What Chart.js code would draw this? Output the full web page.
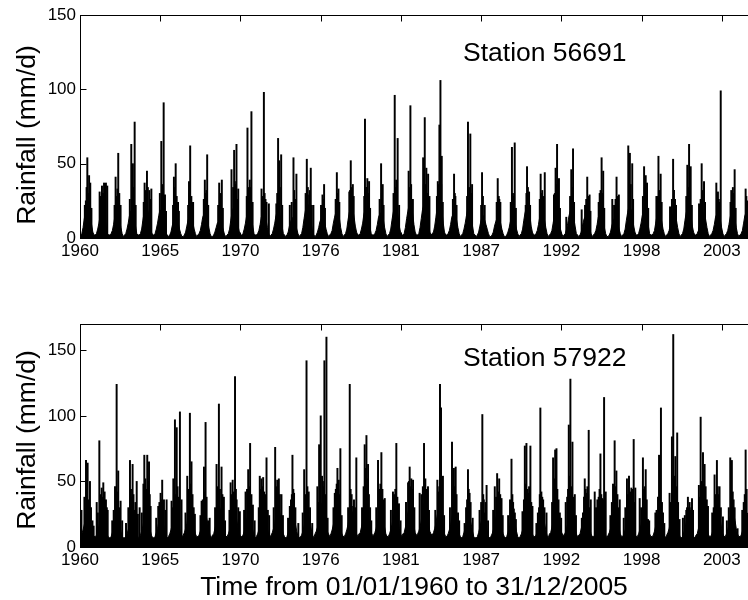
<!DOCTYPE html>
<html>
<head>
<meta charset="utf-8">
<script src="https://cdn.jsdelivr.net/npm/chart.js@4.4.1/dist/chart.umd.min.js"></script>
<style>
  html, body { margin: 0; padding: 0; background: #fff; overflow: hidden; width: 748px; height: 600px; }
  #wrap { position: relative; width: 760px; height: 600px; }
  #wrap canvas { position: absolute; left: 0; top: 0; }
</style>
</head>
<body>
<div id="wrap">
  <canvas id="chartTop" width="760" height="600"></canvas>
  <canvas id="chartBottom" width="760" height="600"></canvas>
</div>
<script>
// x axis is the day index from 01/01/1960
const firstYear = 1960;
const totalDays = 16802;
const tickDays = [0, 2000, 4000, 6000, 8000, 10000, 12000, 14000, 16000];
const tickLabels = ['1960', '1965', '1970', '1976', '1981', '1987', '1992', '1998', '2003'];
const yTickValues = [0, 50, 100, 150];

// Station 56691: monthly level of the dense rain (Jan..Dec), one row per year 1960-2005
const rain56691Monthly = [
    [2, 3, 7, 13, 18, 22, 23, 21, 16, 9, 4, 2],
    [2, 3, 6, 10, 15, 18, 19, 17, 13, 8, 3, 2],
    [2, 3, 5, 9, 14, 16, 17, 16, 12, 7, 3, 1],
    [2, 3, 6, 10, 15, 18, 19, 17, 13, 8, 3, 2],
    [2, 3, 6, 12, 17, 20, 21, 19, 15, 8, 4, 2],
    [2, 3, 6, 10, 15, 19, 18, 17, 13, 8, 3, 2],
    [1, 2, 4, 8, 11, 13, 14, 13, 10, 6, 3, 1],
    [1, 2, 4, 8, 12, 14, 13, 12, 10, 6, 3, 1],
    [2, 3, 5, 9, 14, 16, 17, 16, 12, 7, 3, 1],
    [1, 2, 4, 7, 10, 11, 12, 11, 8, 5, 2, 1],
    [2, 3, 6, 12, 17, 20, 21, 19, 15, 8, 4, 2],
    [2, 3, 6, 10, 15, 19, 18, 17, 13, 8, 3, 2],
    [2, 3, 5, 9, 14, 16, 17, 16, 12, 7, 3, 1],
    [2, 3, 6, 10, 15, 18, 19, 17, 13, 8, 3, 2],
    [1, 2, 4, 8, 11, 13, 14, 13, 10, 6, 3, 1],
    [2, 3, 7, 13, 18, 22, 23, 21, 16, 9, 4, 2],
    [1, 2, 4, 7, 11, 13, 14, 13, 10, 6, 3, 1],
    [2, 3, 5, 10, 14, 17, 18, 17, 13, 7, 3, 1],
    [2, 3, 6, 12, 17, 20, 21, 19, 14, 8, 4, 2],
    [2, 3, 6, 10, 16, 19, 18, 17, 12, 7, 3, 2],
    [2, 3, 5, 9, 14, 16, 17, 16, 12, 7, 3, 1],
    [2, 3, 6, 12, 17, 21, 20, 19, 15, 8, 4, 2],
    [2, 3, 7, 13, 18, 22, 23, 21, 16, 9, 4, 2],
    [2, 3, 7, 13, 19, 22, 23, 21, 17, 10, 4, 2],
    [3, 4, 8, 14, 20, 24, 25, 23, 18, 10, 4, 2],
    [2, 3, 5, 9, 14, 16, 17, 16, 12, 7, 3, 1],
    [2, 3, 6, 10, 15, 19, 19, 17, 13, 8, 3, 2],
    [1, 2, 4, 8, 12, 14, 13, 12, 9, 6, 3, 1],
    [1, 2, 4, 8, 11, 13, 14, 13, 10, 6, 3, 1],
    [1, 2, 4, 7, 11, 13, 14, 13, 10, 6, 3, 1],
    [2, 3, 6, 12, 17, 20, 21, 19, 15, 8, 4, 2],
    [2, 3, 5, 9, 14, 16, 17, 16, 12, 7, 3, 1],
    [2, 3, 5, 10, 15, 17, 16, 15, 11, 6, 3, 1],
    [2, 3, 6, 10, 15, 18, 19, 17, 13, 8, 3, 2],
    [1, 2, 4, 8, 12, 14, 13, 13, 10, 6, 3, 1],
    [2, 3, 5, 9, 14, 16, 17, 16, 12, 7, 3, 1],
    [1, 2, 4, 8, 11, 13, 14, 13, 10, 6, 3, 1],
    [2, 3, 6, 12, 17, 21, 20, 19, 14, 8, 4, 2],
    [2, 3, 6, 10, 15, 18, 19, 17, 13, 8, 3, 2],
    [2, 3, 5, 10, 15, 17, 16, 15, 11, 6, 3, 1],
    [2, 3, 5, 9, 14, 16, 17, 16, 12, 7, 3, 1],
    [2, 3, 6, 12, 17, 20, 21, 19, 15, 8, 4, 2],
    [2, 3, 5, 9, 14, 16, 17, 16, 12, 7, 3, 1],
    [2, 3, 5, 9, 14, 16, 17, 16, 12, 7, 3, 1],
    [2, 3, 5, 9, 14, 17, 16, 15, 12, 7, 3, 1],
    [2, 3, 5, 10, 15, 17, 16, 15, 12, 7, 3, 1],
];

// Station 56691: main single-day peaks [year + fraction of year, mm/d]
const rain56691Peaks = [
    [1960.40, 25], [1960.50, 54], [1960.62, 42], [1960.70, 37],
    [1961.34, 31], [1961.50, 35], [1961.64, 37], [1961.77, 37], [1961.86, 35],
    [1962.43, 41], [1962.61, 57], [1962.77, 22],
    [1963.50, 63], [1963.61, 50], [1963.73, 78],
    [1964.41, 37], [1964.57, 45], [1964.73, 32], [1964.87, 33],
    [1965.55, 65], [1965.71, 91], [1965.80, 29],
    [1966.41, 41], [1966.53, 50], [1966.69, 24],
    [1967.44, 38], [1967.52, 62], [1967.72, 24],
    [1968.52, 39], [1968.59, 30], [1968.68, 56],
    [1969.50, 37], [1969.60, 30], [1969.68, 39],
    [1970.34, 46], [1970.52, 59], [1970.68, 63], [1970.80, 33],
    [1971.43, 74], [1971.59, 39], [1971.70, 85],
    [1972.39, 33], [1972.55, 98], [1972.73, 24], [1972.89, 23],
    [1973.40, 23], [1973.52, 67], [1973.59, 52], [1973.73, 56],
    [1974.32, 22], [1974.57, 54], [1974.77, 43],
    [1975.48, 53], [1975.64, 29], [1975.75, 47], [1975.93, 22],
    [1976.55, 29], [1976.66, 36],
    [1977.53, 44], [1977.64, 33],
    [1978.38, 31], [1978.48, 52], [1978.62, 36],
    [1979.45, 80], [1979.61, 40], [1979.73, 38],
    [1980.55, 50], [1980.66, 36],
    [1981.48, 96], [1981.58, 39], [1981.68, 67],
    [1982.43, 45], [1982.55, 89], [1982.65, 23],
    [1983.42, 54], [1983.53, 81], [1983.64, 47], [1983.76, 43], [1983.85, 28],
    [1984.42, 38], [1984.53, 76], [1984.60, 106], [1984.69, 55],
    [1985.53, 43], [1985.62, 28],
    [1986.48, 78], [1986.64, 70], [1986.76, 36],
    [1987.44, 44], [1987.55, 15],
    [1988.51, 40], [1988.69, 24],
    [1989.48, 61], [1989.67, 64],
    [1990.42, 22], [1990.51, 48], [1990.65, 31],
    [1991.44, 43], [1991.55, 32], [1991.72, 44],
    [1992.35, 29], [1992.46, 47], [1992.56, 63], [1992.69, 40],
    [1993.19, 14], [1993.53, 46], [1993.65, 60],
    [1994.24, 19], [1994.47, 22], [1994.62, 41], [1994.78, 29],
    [1995.47, 30], [1995.60, 54], [1995.71, 45],
    [1996.33, 26], [1996.62, 41], [1996.78, 29],
    [1997.42, 62], [1997.53, 57], [1997.69, 50],
    [1998.50, 48], [1998.61, 42], [1998.70, 37],
    [1999.34, 28], [1999.48, 55], [1999.63, 43],
    [2000.27, 21], [2000.48, 53], [2000.61, 26],
    [2001.45, 49], [2001.57, 63], [2001.68, 48],
    [2002.25, 23], [2002.43, 50], [2002.59, 38],
    [2003.43, 37], [2003.54, 31], [2003.73, 99],
    [2004.45, 32], [2004.56, 34], [2004.68, 46],
    [2005.43, 33], [2005.55, 25],
];

// Station 56691: smaller rainy days inside each wet season
const rain56691Minor = [
    [1960.33, 22], [1960.45, 34], [1960.56, 30], [1960.66, 32], [1960.78, 20],
    [1961.42, 28], [1961.57, 30], [1961.70, 32],
    [1962.36, 22], [1962.50, 28], [1962.55, 33], [1962.68, 30],
    [1963.40, 26], [1963.55, 36], [1963.67, 34], [1963.80, 22],
    [1964.35, 24], [1964.50, 32], [1964.63, 34], [1964.80, 26],
    [1965.45, 30], [1965.60, 36], [1965.66, 34], [1965.87, 18],
    [1966.35, 22], [1966.47, 34], [1966.60, 28], [1966.75, 18],
    [1967.38, 22], [1967.48, 30], [1967.60, 28], [1967.66, 24],
    [1968.45, 26], [1968.63, 32], [1968.75, 22],
    [1969.43, 22], [1969.55, 28], [1969.75, 20],
    [1970.45, 34], [1970.57, 38], [1970.62, 36], [1970.74, 26],
    [1971.38, 28], [1971.50, 34], [1971.64, 34], [1971.78, 24],
    [1972.45, 28], [1972.60, 30], [1972.66, 26],
    [1973.46, 30], [1973.64, 34], [1973.80, 22],
    [1974.45, 24], [1974.62, 32], [1974.70, 26],
    [1975.40, 30], [1975.55, 34], [1975.69, 32], [1975.82, 22],
    [1976.45, 22], [1976.60, 26], [1976.72, 20],
    [1977.45, 26], [1977.58, 30], [1977.70, 24],
    [1978.43, 32], [1978.55, 34], [1978.68, 28],
    [1979.40, 28], [1979.52, 34], [1979.66, 30], [1979.80, 20],
    [1980.45, 26], [1980.60, 30], [1980.72, 22],
    [1981.40, 30], [1981.53, 34], [1981.63, 30], [1981.78, 22],
    [1982.48, 34], [1982.60, 36], [1982.72, 26],
    [1983.47, 36], [1983.58, 36], [1983.70, 30],
    [1984.36, 28], [1984.48, 36], [1984.65, 36], [1984.76, 24],
    [1985.45, 26], [1985.58, 30], [1985.70, 22],
    [1986.42, 28], [1986.56, 34], [1986.70, 30],
    [1987.38, 22], [1987.50, 28], [1987.62, 22],
    [1988.44, 24], [1988.58, 28], [1988.62, 26],
    [1989.40, 24], [1989.55, 30], [1989.62, 28], [1989.75, 20],
    [1990.47, 30], [1990.57, 34], [1990.72, 22],
    [1991.38, 26], [1991.50, 30], [1991.64, 28],
    [1992.41, 30], [1992.52, 36], [1992.62, 32], [1992.76, 20],
    [1993.45, 28], [1993.58, 34], [1993.72, 24],
    [1994.55, 26], [1994.68, 28], [1994.84, 18],
    [1995.40, 24], [1995.53, 32], [1995.66, 30], [1995.78, 20],
    [1996.45, 22], [1996.55, 26], [1996.68, 28],
    [1997.47, 34], [1997.59, 36], [1997.75, 26],
    [1998.42, 28], [1998.55, 34], [1998.66, 30], [1998.78, 20],
    [1999.42, 28], [1999.55, 32], [1999.70, 24],
    [2000.40, 26], [2000.54, 32], [2000.68, 22],
    [2001.38, 28], [2001.50, 34], [2001.62, 34], [2001.76, 22],
    [2002.36, 26], [2002.50, 32], [2002.66, 24],
    [2003.48, 28], [2003.60, 26], [2003.68, 24],
    [2004.40, 24], [2004.50, 28], [2004.62, 30], [2004.75, 20],
    [2005.48, 28], [2005.60, 22],
];

// Station 57922: monthly level of the dense rain (Jan..Dec), one row per year 1960-2005
const rain57922Monthly = [
    [9, 10, 13, 17, 22, 26, 28, 25, 20, 14, 10, 8],
    [8, 9, 12, 16, 21, 24, 26, 23, 18, 13, 9, 7],
    [7, 8, 11, 15, 19, 22, 24, 21, 17, 12, 8, 7],
    [7, 8, 10, 13, 17, 20, 22, 20, 15, 11, 8, 6],
    [8, 9, 12, 16, 21, 25, 26, 23, 18, 13, 9, 7],
    [7, 8, 11, 14, 19, 23, 24, 21, 17, 12, 8, 7],
    [8, 10, 13, 17, 22, 26, 28, 25, 20, 14, 10, 8],
    [9, 11, 14, 18, 24, 28, 30, 27, 21, 15, 10, 8],
    [8, 9, 12, 16, 21, 25, 26, 23, 18, 13, 9, 7],
    [9, 10, 14, 18, 24, 29, 30, 27, 21, 15, 10, 8],
    [8, 10, 13, 17, 22, 27, 28, 25, 20, 14, 10, 8],
    [8, 9, 12, 16, 21, 24, 26, 23, 18, 13, 9, 7],
    [8, 10, 13, 17, 22, 26, 28, 25, 20, 14, 10, 8],
    [9, 11, 14, 18, 24, 28, 30, 27, 21, 15, 10, 8],
    [7, 8, 11, 14, 19, 23, 24, 21, 17, 12, 8, 7],
    [8, 9, 12, 16, 21, 25, 26, 23, 18, 13, 9, 7],
    [10, 12, 15, 20, 27, 32, 34, 31, 24, 17, 12, 10],
    [8, 10, 13, 17, 22, 26, 28, 25, 20, 14, 10, 8],
    [8, 10, 13, 17, 23, 27, 28, 25, 20, 14, 10, 8],
    [10, 11, 15, 19, 26, 30, 32, 29, 22, 16, 11, 9],
    [9, 11, 14, 18, 24, 28, 30, 27, 21, 15, 10, 8],
    [8, 10, 13, 17, 22, 26, 28, 25, 20, 14, 10, 8],
    [10, 11, 15, 19, 26, 30, 32, 29, 22, 16, 11, 9],
    [10, 12, 15, 20, 27, 32, 34, 31, 24, 17, 12, 10],
    [9, 11, 14, 18, 24, 28, 30, 27, 21, 15, 10, 8],
    [8, 10, 13, 17, 22, 27, 28, 25, 20, 14, 10, 8],
    [7, 8, 11, 14, 19, 23, 24, 21, 17, 12, 8, 7],
    [7, 8, 11, 15, 19, 22, 24, 22, 17, 12, 8, 7],
    [8, 10, 13, 17, 22, 26, 28, 25, 20, 14, 10, 8],
    [7, 8, 11, 14, 19, 23, 24, 21, 17, 12, 8, 7],
    [8, 10, 13, 17, 23, 27, 28, 25, 20, 14, 10, 8],
    [8, 9, 12, 16, 21, 25, 26, 23, 18, 13, 9, 7],
    [10, 11, 15, 19, 26, 30, 32, 29, 22, 16, 11, 9],
    [9, 11, 14, 18, 24, 28, 30, 27, 21, 15, 10, 8],
    [9, 10, 14, 18, 24, 29, 30, 27, 21, 15, 10, 8],
    [8, 9, 12, 16, 21, 24, 26, 23, 18, 13, 9, 7],
    [9, 11, 14, 18, 24, 28, 30, 27, 21, 15, 10, 8],
    [8, 10, 13, 17, 22, 26, 28, 25, 20, 14, 10, 8],
    [8, 10, 13, 17, 23, 27, 28, 25, 20, 14, 10, 8],
    [8, 9, 12, 16, 21, 25, 26, 23, 18, 13, 9, 7],
    [9, 11, 14, 18, 24, 28, 30, 27, 21, 15, 10, 8],
    [7, 8, 11, 14, 19, 23, 24, 21, 17, 12, 8, 7],
    [9, 10, 14, 18, 24, 29, 30, 27, 21, 15, 10, 8],
    [8, 10, 13, 17, 22, 26, 28, 25, 20, 14, 10, 8],
    [8, 10, 13, 17, 23, 27, 28, 25, 20, 14, 10, 8],
    [8, 9, 12, 16, 21, 24, 26, 23, 18, 13, 9, 7],
];

// Station 57922: main single-day peaks [year + fraction of year, mm/d]
const rain57922Peaks = [
    [1960.10, 28], [1960.35, 25], [1960.41, 66], [1960.52, 64], [1960.68, 50], [1960.85, 20],
    [1961.14, 34], [1961.32, 81], [1961.48, 45], [1961.59, 49], [1961.77, 36], [1961.89, 28],
    [1962.20, 20], [1962.39, 46], [1962.50, 124], [1962.61, 58], [1962.77, 35],
    [1963.14, 18], [1963.41, 66], [1963.59, 63], [1963.70, 28], [1963.87, 50], [1963.95, 25],
    [1964.07, 30], [1964.39, 70], [1964.59, 70], [1964.71, 65], [1964.82, 31],
    [1965.34, 31], [1965.50, 41], [1965.61, 51], [1965.73, 36], [1965.91, 36],
    [1966.25, 35], [1966.37, 52], [1966.48, 97], [1966.60, 91], [1966.82, 103], [1966.93, 36],
    [1967.32, 54], [1967.50, 102], [1967.61, 65], [1967.84, 25],
    [1968.30, 35], [1968.46, 61], [1968.57, 95], [1968.75, 20],
    [1969.32, 63], [1969.48, 109], [1969.66, 61], [1969.82, 38],
    [1970.28, 49], [1970.42, 51], [1970.58, 130], [1970.69, 36], [1970.91, 27],
    [1971.30, 42], [1971.48, 59], [1971.61, 79],
    [1972.27, 54], [1972.38, 52], [1972.50, 53], [1972.73, 68], [1972.91, 24],
    [1973.32, 76], [1973.46, 51], [1973.57, 52], [1973.75, 40],
    [1974.32, 31], [1974.50, 70], [1974.61, 41],
    [1975.30, 59], [1975.46, 142], [1975.61, 42],
    [1976.20, 46], [1976.32, 78], [1976.43, 100], [1976.52, 54], [1976.68, 142], [1976.82, 160],
    [1977.39, 41], [1977.57, 60], [1977.66, 51], [1977.77, 75],
    [1978.41, 124], [1978.64, 31], [1978.86, 68],
    [1979.43, 78], [1979.55, 85], [1979.66, 63], [1979.80, 30],
    [1980.34, 66], [1980.57, 72], [1980.80, 37],
    [1981.36, 42], [1981.59, 79], [1981.77, 33],
    [1982.39, 49], [1982.50, 61], [1982.61, 52], [1982.73, 51],
    [1983.18, 41], [1983.48, 79], [1983.57, 52], [1983.75, 46],
    [1984.39, 51], [1984.57, 124], [1984.64, 106], [1984.77, 54],
    [1985.39, 80], [1985.52, 60], [1985.64, 61], [1985.80, 26],
    [1986.25, 18], [1986.48, 59], [1986.59, 41],
    [1987.27, 28], [1987.46, 101], [1987.61, 26], [1987.75, 47],
    [1988.20, 28], [1988.31, 46], [1988.47, 56], [1988.61, 52], [1988.77, 37],
    [1989.22, 24], [1989.45, 67], [1989.61, 29], [1989.75, 21],
    [1990.20, 27], [1990.36, 77], [1990.47, 79], [1990.58, 41], [1990.74, 77], [1990.88, 31],
    [1991.15, 18], [1991.33, 30], [1991.42, 106], [1991.61, 36], [1991.84, 26],
    [1992.29, 68], [1992.43, 74], [1992.52, 75], [1992.75, 26],
    [1993.15, 34], [1993.36, 93], [1993.47, 128], [1993.61, 80], [1993.77, 40],
    [1994.33, 26], [1994.45, 52], [1994.56, 41], [1994.72, 89], [1994.86, 36],
    [1995.13, 42], [1995.31, 36], [1995.52, 71], [1995.65, 37], [1995.77, 114], [1995.88, 42],
    [1996.20, 24], [1996.38, 48], [1996.49, 81], [1996.61, 58], [1996.84, 36],
    [1997.11, 22], [1997.33, 52], [1997.47, 54], [1997.63, 45], [1997.79, 82], [1997.90, 45],
    [1998.20, 37], [1998.42, 68], [1998.61, 59], [1998.77, 21],
    [1999.27, 26], [1999.52, 70], [1999.65, 106], [1999.79, 26],
    [2000.24, 41], [2000.40, 84], [2000.49, 162], [2000.63, 69], [2000.76, 87], [2000.92, 21],
    [2001.15, 22], [2001.38, 28], [2001.49, 38], [2001.61, 34], [2001.77, 37], [2001.84, 28],
    [2002.24, 47], [2002.36, 99], [2002.52, 72], [2002.63, 63], [2002.86, 31],
    [2003.15, 26], [2003.31, 55], [2003.47, 66], [2003.65, 46], [2003.88, 23],
    [2004.15, 20], [2004.38, 68], [2004.49, 66], [2004.61, 36], [2004.79, 10],
    [2005.20, 28], [2005.43, 74],
];

// Station 57922: smaller rainy days inside each wet season
const rain57922Minor = [
    [1960.30, 38], [1960.46, 44], [1960.58, 36], [1960.75, 30], [1960.93, 16],
    [1961.22, 26], [1961.40, 40], [1961.54, 38], [1961.68, 42], [1961.83, 30],
    [1962.30, 28], [1962.45, 40], [1962.56, 42], [1962.70, 30], [1962.88, 20],
    [1963.30, 30], [1963.48, 44], [1963.53, 38], [1963.65, 40], [1963.78, 34],
    [1964.22, 26], [1964.33, 48], [1964.46, 52], [1964.53, 44], [1964.65, 50], [1964.76, 40],
    [1965.20, 22], [1965.42, 34], [1965.55, 36], [1965.67, 34], [1965.82, 28],
    [1966.31, 30], [1966.42, 44], [1966.54, 40], [1966.66, 46], [1966.75, 38],
    [1967.20, 26], [1967.40, 44], [1967.55, 48], [1967.68, 40], [1967.76, 30],
    [1968.22, 24], [1968.38, 36], [1968.51, 42], [1968.64, 38], [1968.85, 22],
    [1969.22, 30], [1969.40, 46], [1969.55, 44], [1969.72, 40], [1969.90, 20],
    [1970.20, 28], [1970.35, 40], [1970.50, 42], [1970.64, 44], [1970.80, 30],
    [1971.20, 28], [1971.40, 44], [1971.54, 46], [1971.70, 40], [1971.80, 32], [1971.92, 20],
    [1972.20, 30], [1972.33, 44], [1972.44, 46], [1972.57, 42], [1972.66, 40], [1972.82, 28],
    [1973.22, 30], [1973.40, 46], [1973.52, 44], [1973.64, 40], [1973.85, 24],
    [1974.20, 22], [1974.40, 36], [1974.46, 40], [1974.56, 44], [1974.70, 30], [1974.90, 18],
    [1975.20, 26], [1975.38, 40], [1975.52, 46], [1975.56, 38], [1975.70, 30], [1975.85, 18],
    [1976.26, 34], [1976.38, 44], [1976.58, 50], [1976.63, 46], [1976.75, 40], [1976.90, 22],
    [1977.30, 30], [1977.46, 44], [1977.52, 48], [1977.62, 44], [1977.72, 40], [1977.86, 24],
    [1978.30, 30], [1978.47, 44], [1978.54, 40], [1978.70, 36], [1978.78, 30],
    [1979.25, 30], [1979.36, 46], [1979.49, 60], [1979.60, 52], [1979.72, 40], [1979.88, 20],
    [1980.22, 30], [1980.42, 44], [1980.50, 48], [1980.64, 44], [1980.72, 36],
    [1981.22, 28], [1981.44, 40], [1981.52, 44], [1981.66, 38], [1981.88, 20],
    [1982.25, 34], [1982.45, 50], [1982.56, 46], [1982.67, 44], [1982.82, 30],
    [1983.30, 40], [1983.40, 46], [1983.53, 50], [1983.64, 44], [1983.82, 28],
    [1984.25, 28], [1984.46, 42], [1984.52, 46], [1984.70, 44], [1984.85, 24],
    [1985.25, 30], [1985.45, 44], [1985.58, 46], [1985.70, 40], [1985.88, 20],
    [1986.35, 30], [1986.42, 36], [1986.53, 44], [1986.66, 34], [1986.80, 22],
    [1987.38, 34], [1987.52, 40], [1987.56, 36], [1987.68, 34], [1987.85, 20],
    [1988.40, 38], [1988.54, 42], [1988.68, 40], [1988.85, 24],
    [1989.35, 36], [1989.51, 40], [1989.56, 34], [1989.68, 26],
    [1990.30, 36], [1990.42, 48], [1990.53, 44], [1990.65, 46], [1990.80, 34],
    [1991.25, 26], [1991.38, 40], [1991.49, 42], [1991.55, 38], [1991.70, 30],
    [1992.22, 34], [1992.36, 52], [1992.47, 50], [1992.58, 44], [1992.66, 36], [1992.84, 22],
    [1993.25, 38], [1993.31, 44], [1993.42, 54], [1993.55, 46], [1993.68, 38], [1993.85, 24],
    [1994.25, 22], [1994.40, 38], [1994.51, 44], [1994.63, 46], [1994.68, 40], [1994.80, 30],
    [1995.22, 30], [1995.40, 38], [1995.46, 44], [1995.58, 40], [1995.70, 36], [1995.83, 34],
    [1996.30, 34], [1996.43, 44], [1996.55, 46], [1996.68, 40], [1996.75, 30],
    [1997.22, 30], [1997.40, 40], [1997.55, 42], [1997.70, 44], [1997.85, 34],
    [1998.30, 30], [1998.47, 44], [1998.55, 46], [1998.68, 36], [1998.85, 20],
    [1999.35, 28], [1999.45, 38], [1999.58, 44], [1999.72, 34], [1999.88, 18],
    [2000.30, 34], [2000.45, 52], [2000.55, 54], [2000.68, 46], [2000.82, 34],
    [2001.28, 24], [2001.43, 30], [2001.55, 30], [2001.67, 28], [2001.72, 30],
    [2002.30, 38], [2002.45, 50], [2002.57, 48], [2002.70, 46], [2002.78, 36],
    [2003.25, 30], [2003.40, 40], [2003.53, 46], [2003.60, 40], [2003.74, 30],
    [2004.28, 30], [2004.43, 44], [2004.55, 42], [2004.68, 30], [2004.88, 14],
    [2005.30, 34], [2005.37, 40], [2005.50, 44],
];

const yTitle = 'Rainfall (mm/d)';
const xTitle = 'Time from 01/01/1960 to 31/12/2005';
const fontFamily = '"Liberation Sans", Arial, Helvetica, sans-serif';

function monthlyPoints(rows) {
    const pts = [];
    rows.forEach((row, i) => {
        row.forEach((v, m) => {
            pts.push({ x: (i + (m + 0.5) / 12) * 365.25, y: v });
        });
    });
    return pts;
}

function peakPoints(peaks) {
    return peaks.map(p => ({ x: (p[0] - firstYear) * 365.25, y: p[1] }));
}

// MATLAB style box with inward ticks, plus the texts
const boxPlugin = {
    id: 'box',
    afterDraw(chart, args, opts) {
        const { ctx, chartArea: a, scales } = chart;
        const L = Math.round(a.left) + 0.5, R = Math.round(a.right) + 0.5;
        const T = Math.round(a.top) + 0.5, B = Math.round(a.bottom) + 0.5;
        ctx.save();
        ctx.strokeStyle = '#000';
        ctx.lineWidth = 1;
        ctx.strokeRect(L, T, R - L, B - T);
        ctx.beginPath();
        scales.x.ticks.forEach(t => {
            const px = Math.round(scales.x.getPixelForValue(t.value)) + 0.5;
            ctx.moveTo(px, B); ctx.lineTo(px, B - 6);
            ctx.moveTo(px, T); ctx.lineTo(px, T + 6);
        });
        scales.y.ticks.forEach(t => {
            const py = Math.round(scales.y.getPixelForValue(t.value)) + 0.5;
            ctx.moveTo(L, py); ctx.lineTo(L + 6, py);
            ctx.moveTo(R, py); ctx.lineTo(R - 6, py);
        });
        ctx.stroke();

        ctx.fillStyle = '#000';
        ctx.font = '26.5px ' + fontFamily;
        ctx.textAlign = 'left';
        ctx.textBaseline = 'alphabetic';
        ctx.fillText(opts.station, 463, opts.stationY);

        ctx.save();
        ctx.translate(35, opts.yTitleY);
        ctx.rotate(-Math.PI / 2);
        ctx.textAlign = 'center';
        ctx.fillText(yTitle, 0, 0);
        ctx.restore();

        if (opts.showXTitle) {
            ctx.textAlign = 'center';
            ctx.fillText(xTitle, 414, 595);
        }
        ctx.restore();
    }
};

function makeChart(id, monthly, peaks, yMax, padTop, padBottom, station, stationY, yTitleY, showXTitle) {
    return new Chart(document.getElementById(id), {
        type: 'bar',
        data: {
            datasets: [
                {
                    type: 'bar',
                    data: peakPoints(peaks),
                    backgroundColor: '#000',
                    barThickness: 1.3,
                    order: 1
                },
                {
                    type: 'line',
                    data: monthlyPoints(monthly),
                    borderColor: '#000',
                    borderWidth: 1,
                    backgroundColor: '#000',
                    fill: 'origin',
                    pointRadius: 0,
                    tension: 0,
                    order: 2
                }
            ]
        },
        options: {
            responsive: false,
            animation: false,
            events: [],
            layout: { padding: { left: 0, right: 6, top: padTop, bottom: padBottom } },
            plugins: {
                legend: { display: false },
                tooltip: { enabled: false },
                box: { station: station, stationY: stationY, yTitleY: yTitleY, showXTitle: showXTitle }
            },
            scales: {
                x: {
                    type: 'linear',
                    min: 0,
                    max: totalDays,
                    offset: false,
                    grid: { display: false, drawTicks: false, offset: false },
                    border: { display: false },
                    afterBuildTicks: axis => { axis.ticks = tickDays.map(v => ({ value: v })); },
                    afterFit: axis => { axis.height = 30; },
                    ticks: {
                        autoSkip: false,
                        maxRotation: 0,
                        padding: 3,
                        color: '#000',
                        font: { family: fontFamily, size: 17 },
                        callback: v => tickLabels[tickDays.indexOf(v)]
                    }
                },
                y: {
                    min: 0,
                    max: yMax,
                    grid: { display: false, drawTicks: false },
                    border: { display: false },
                    afterBuildTicks: axis => { axis.ticks = yTickValues.map(v => ({ value: v })); },
                    afterFit: axis => { axis.width = 80; },
                    ticks: {
                        padding: 4,
                        color: '#000',
                        font: { family: fontFamily, size: 17 }
                    }
                }
            }
        },
        plugins: [boxPlugin]
    });
}

makeChart('chartTop', rain56691Monthly, rain56691Peaks.concat(rain56691Minor), 150, 15, 332,
    'Station 56691', 61, 135, false);
makeChart('chartBottom', rain57922Monthly, rain57922Peaks.concat(rain57922Minor), 170, 324, 23,
    'Station 57922', 366, 440, true);
</script>
</body>
</html>
